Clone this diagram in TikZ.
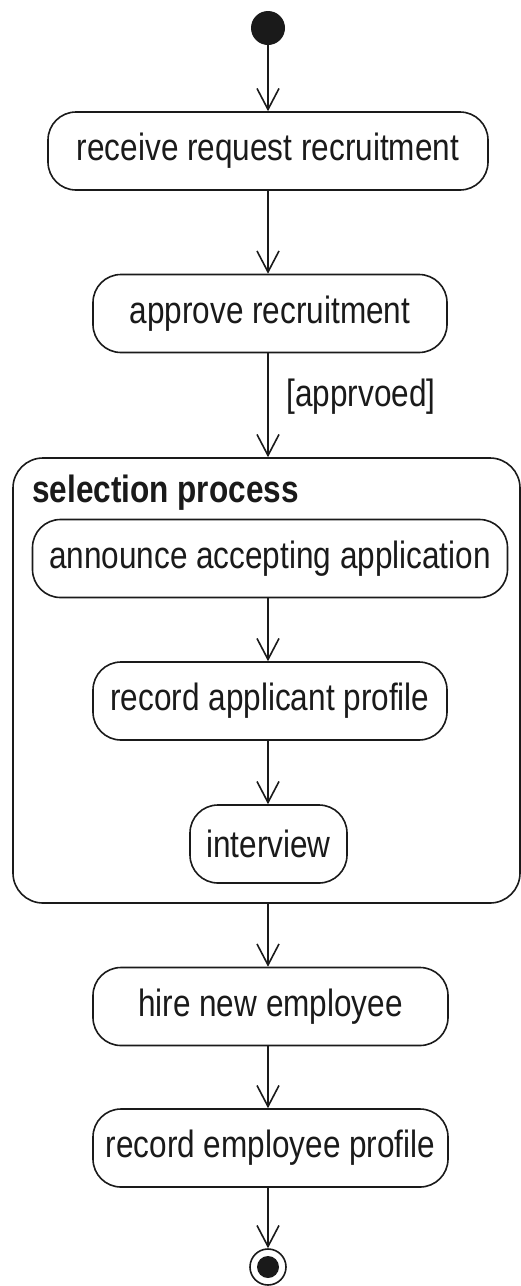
\documentclass[tikz,border=0pt]{standalone}
\usepackage{fontspec}
\setmainfont{Liberation Sans}
\usetikzlibrary{arrows.meta}
\newcommand{\nt}[1]{\scalebox{0.83}[1]{#1}}
\definecolor{ink}{HTML}{1A1A1A}
\tikzset{
  act/.style={draw=ink, line width=1.6pt, rounded corners=28pt, minimum height=78pt, inner sep=0pt,
    text=ink, font=\fontsize{38}{40}\selectfont},
  flow/.style={draw=ink, line width=1.6pt, -{Straight Barb[length=21pt,width=22pt,line width=1.6pt]}},
  lbl/.style={inner sep=0pt, text=ink, font=\fontsize{38}{40}\selectfont}
}
\begin{document}
\begin{tikzpicture}[x=1pt,y=-1pt]
\useasboundingbox (0,0) rectangle (521,1286);
\fill[white] (0,0) rectangle (521,1286);
\node[circle, fill=ink, minimum size=34pt, inner sep=0pt] (init) at (268,28) {};
\node[act, minimum width=440pt] (receive) at (268,151) {\nt{receive request recruitment}};
\node[act, minimum width=354pt] (approve) at (270,313.5) {\nt{approve recruitment}};
\node[lbl] (guard) at (361,397) {\nt{[apprvoed]}};
\node[draw=ink, line width=1.6pt, rounded corners=30pt, minimum width=507pt, minimum height=445pt, inner sep=0pt] (sel) at (266.5,680.5) {};
\node[lbl, anchor=base west, font=\fontsize{38}{40}\selectfont\bfseries] (seltitle) at (32,502) {\nt{selection process}};
\node[act, minimum width=475pt] (announce) at (270,558.5) {\nt{announce accepting application}};
\node[act, minimum width=354pt] (recapp) at (270,701) {\nt{record applicant profile}};
\node[act, minimum width=157pt] (interview) at (268.5,844) {\nt{interview}};
\node[act, minimum width=355pt] (hire) at (270.5,1006.5) {\nt{hire new employee}};
\node[act, minimum width=355pt] (recemp) at (270.5,1148) {\nt{record employee profile}};
\node[circle, draw=ink, line width=1.6pt, minimum size=36pt, inner sep=0pt] (final) at (268,1267) {};
\node[circle, fill=ink, minimum size=22pt, inner sep=0pt] (finaldot) at (final.center) {};
\draw[flow] (init) -- (init |- receive.north);
\draw[flow] (receive.south -| init) -- (approve.north -| init);
\draw[flow] (approve.south -| init) -- (sel.north -| init);
\draw[flow] (announce.south -| init) -- (recapp.north -| init);
\draw[flow] (recapp.south -| init) -- (interview.north -| init);
\draw[flow] (sel.south -| init) -- (hire.north -| init);
\draw[flow] (hire.south -| init) -- (recemp.north -| init);
\draw[flow] (recemp.south -| init) -- (final.north);
\end{tikzpicture}
\end{document}
